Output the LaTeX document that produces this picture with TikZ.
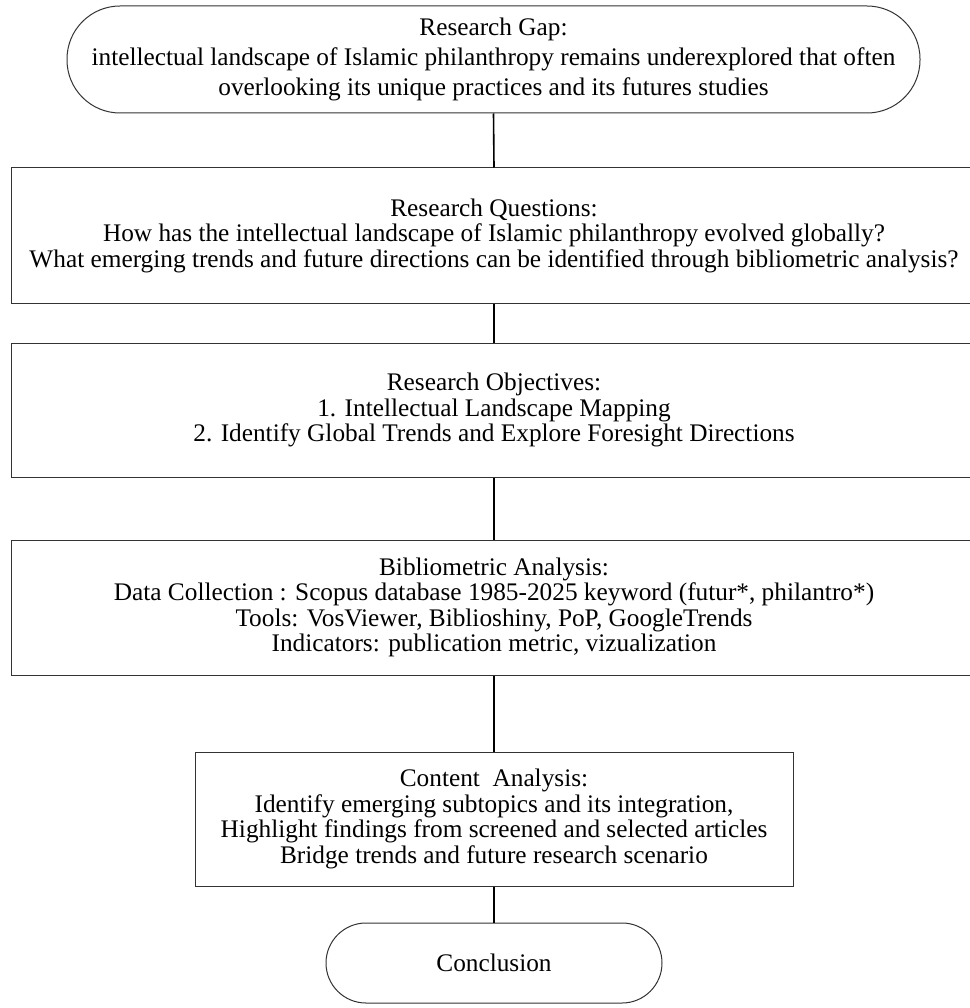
\documentclass[tikz,border=0pt]{standalone}
\usepackage{fontspec}
\setmainfont{Liberation Serif}
\tikzset{
  boxshape/.style={draw=black!80, line width=1pt, rectangle, inner sep=0pt, align=center,
    font=\fontsize{25.3}{25.5}\selectfont},
  termshape/.style={boxshape, rounded corners=#1},
  conn/.style={draw=black, line width=1.6pt},
}
\begin{document}
\begin{tikzpicture}[x=1pt,y=-1pt]
\useasboundingbox[fill=white] (0,0) rectangle (969,1008);
\node[termshape=53pt, minimum width=853pt, minimum height=107pt, font=\fontsize{25.3}{30}\selectfont] (gap) at (493.5,59.5)
  {Research Gap:\\intellectual landscape of Islamic philanthropy remains underexplored that often\\overlooking its unique practices and its futures studies};
\node[boxshape, minimum width=966pt, minimum height=135pt] (q) at (494,235.5)
  {Research Questions:\\How has the intellectual landscape of Islamic philanthropy evolved globally?\\What emerging trends and future directions can be identified through bibliometric analysis?};
\node[boxshape, minimum width=966pt, minimum height=134pt] (o) at (494,410)
  {Research Objectives:\\1. Intellectual Landscape Mapping\\2. Identify Global Trends and Explore Foresight Directions};
\node[boxshape, minimum width=966pt, minimum height=135pt] (b) at (494,607.5)
  {Bibliometric Analysis:\\Data Collection : Scopus database 1985-2025 keyword (futur*, philantro*)\\Tools: VosViewer, Biblioshiny, PoP, GoogleTrends\\Indicators: publication metric, vizualization};
\node[boxshape, minimum width=598pt, minimum height=134pt] (c) at (494,819)
  {Content\ \ Analysis:\\Identify emerging subtopics and its integration,\\Highlight findings from screened and selected articles\\Bridge trends and future research scenario};
\node[termshape=40pt, minimum width=336pt, minimum height=80pt] (end) at (494,963)
  {Conclusion};
\draw[conn] (gap.south) -- (q.north);
\draw[conn] (q.south) -- (o.north);
\draw[conn] (o.south) -- (b.north);
\draw[conn] (b.south) -- (c.north);
\draw[conn] (c.south) -- (end.north);
\end{tikzpicture}
\end{document}
